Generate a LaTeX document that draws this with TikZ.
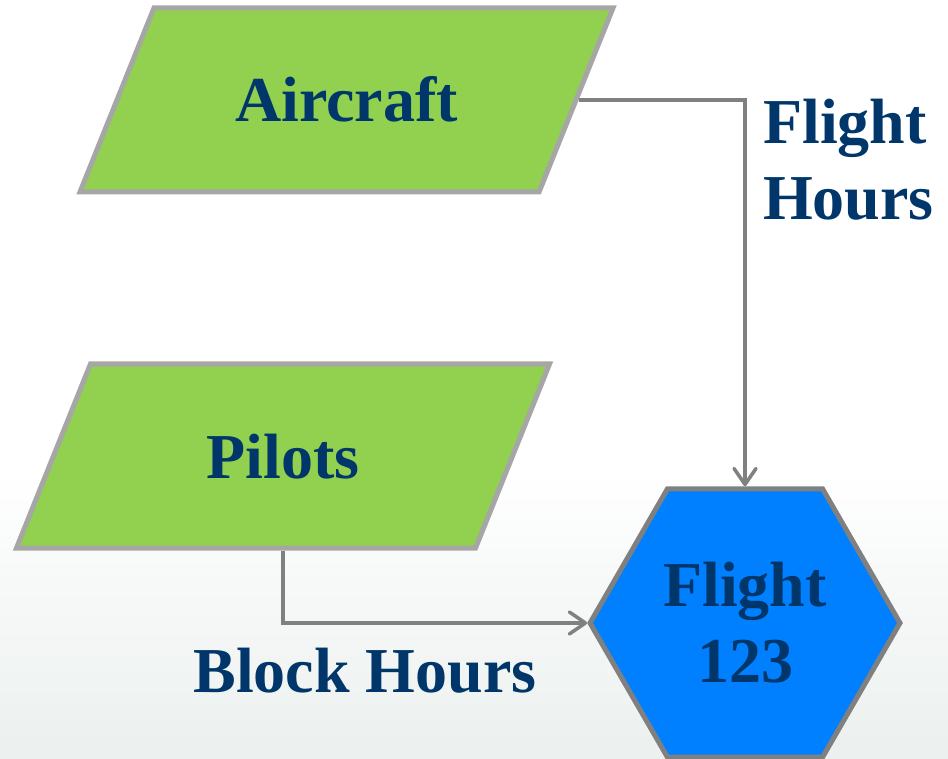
\documentclass[tikz,border=0pt]{standalone}
\usepackage{fontspec}
\setmainfont{Liberation Serif}
\usetikzlibrary{shapes.geometric,arrows.meta}

\definecolor{inputgreen}{HTML}{92D050}
\definecolor{inputedge}{HTML}{A6A6A6}
\definecolor{hexblue}{HTML}{0080FF}
\definecolor{linegray}{HTML}{808080}
\definecolor{navy}{HTML}{00366A}
\definecolor{bgbottom}{HTML}{ECF1EF}

\tikzset{
	bigtext/.style={font=\fontsize{64}{76}\selectfont\bfseries, text=navy},
	inputbox/.style={bigtext, trapezium, trapezium stretches body=true, trapezium left angle=68.1, trapezium right angle=111.9,
		text height=44pt, text depth=0pt, inner ysep=70pt, inner xsep=0pt, minimum width=533,
		fill=inputgreen, draw=inputedge, line width=5pt},
	flightbox/.style={bigtext, regular polygon, regular polygon sides=6, minimum size=310, inner sep=0pt,
		fill=hexblue, draw=linegray, line width=5pt, align=center},
	feed/.style={draw=linegray, line width=3.5pt, -{Straight Barb[length=16pt,width=22pt,round]}},
	hours/.style={bigtext, inner sep=0pt}
}

\begin{document}
\begin{tikzpicture}[x=1pt, y=-1pt]
		\useasboundingbox (0,0) rectangle (948,759);
		\fill[bgbottom] (0,759) rectangle (948,740);
		\shade[top color=white, bottom color=bgbottom] (0,470) rectangle (948,741);
		\node[inputbox] (aircraft) at (346.5,100) {Aircraft};
		\node[inputbox] (pilots) at (283,456) {Pilots};
		\node[flightbox] (flight) at (745,623) {Flight\\123};
		\draw[feed] (aircraft.east) -| (flight.north);
		\draw[feed] (pilots.south) |- (flight.west);
		\node[hours, align=left, anchor=north west] (flighthours) at (763,99) {Flight\\Hours};
		\node[hours, anchor=base] (blockhours) at (365,692) {Block Hours};
\end{tikzpicture}
\end{document}
